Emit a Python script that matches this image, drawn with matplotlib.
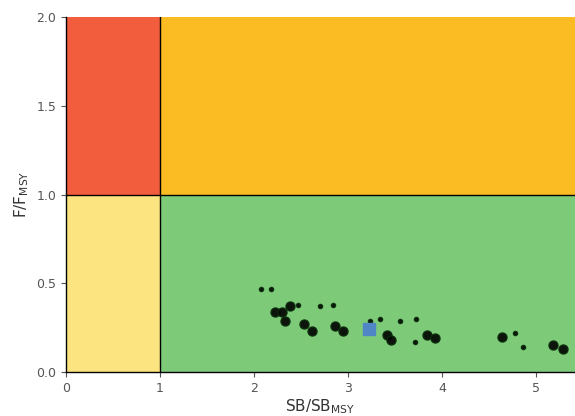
import matplotlib.pyplot as plt
from matplotlib.patches import Rectangle

# Kobe-style plot data
sb_small = [2.07, 2.18, 2.47, 2.70, 2.84, 3.23, 3.34, 3.55, 3.72, 3.71, 4.78, 4.86]
f_small = [0.47, 0.47, 0.38, 0.37, 0.38, 0.29, 0.30, 0.29, 0.30, 0.17, 0.22, 0.14]
sb_big = [2.22, 2.30, 2.38, 2.33, 2.53, 2.62, 2.86, 2.95, 3.41, 3.46, 3.84, 3.93, 4.64, 5.18, 5.29]
f_big = [0.34, 0.34, 0.37, 0.29, 0.27, 0.23, 0.26, 0.23, 0.21, 0.18, 0.21, 0.19, 0.20, 0.15, 0.13]
sb_now = [3.22]
f_now = [0.24]

xmax = 5.415
ymax = 2.0

fig = plt.figure(figsize=(5.75, 4.16), dpi=100)
ax = fig.add_axes([66 / 575, 44 / 416, 1 - 66 / 575, 355 / 416])

# quadrants
ax.add_patch(Rectangle((0, 1), 1, ymax - 1, color='#F25D3E', lw=0))
ax.add_patch(Rectangle((1, 1), xmax - 1, ymax - 1, color='#FBBB22', lw=0))
ax.add_patch(Rectangle((0, 0), 1, 1, color='#FCE480', lw=0))
ax.add_patch(Rectangle((1, 0), xmax - 1, 1, color='#7DCB79', lw=0))
ax.axvline(1, color='black', lw=1.0)
ax.axhline(1, color='black', lw=1.0)

ax.plot(sb_big, f_big, 'o', color='black', ms=6.5, mec='#0b2a0b', alpha=0.9)
ax.plot(sb_small, f_small, 'o', color='black', ms=3, mec='#0b2a0b', alpha=0.9)
ax.plot(sb_now, f_now, 's', color='#4F86C6', ms=8.5)

ax.set_xlim(0, xmax)
ax.set_ylim(0, ymax)
ax.set_xticks([0, 1, 2, 3, 4, 5])
ax.set_yticks([0, 0.5, 1.0, 1.5, 2.0])
ax.set_yticklabels(['0.0', '0.5', '1.0', '1.5', '2.0'])
ax.tick_params(colors='#555555', labelsize=9, length=3.5, width=0.8)
for s in ['top', 'right']:
    ax.spines[s].set_visible(False)
for s in ['left', 'bottom']:
    ax.spines[s].set_color('black')
    ax.spines[s].set_linewidth(1.0)

ax.set_xlabel(r'SB/SB$_{\mathrm{MSY}}$', fontsize=11, color='#333333', labelpad=2)
ax.set_ylabel(r'F/F$_{\mathrm{MSY}}$', fontsize=11, color='#333333', labelpad=4)

fig.savefig('out.png', dpi=100)
